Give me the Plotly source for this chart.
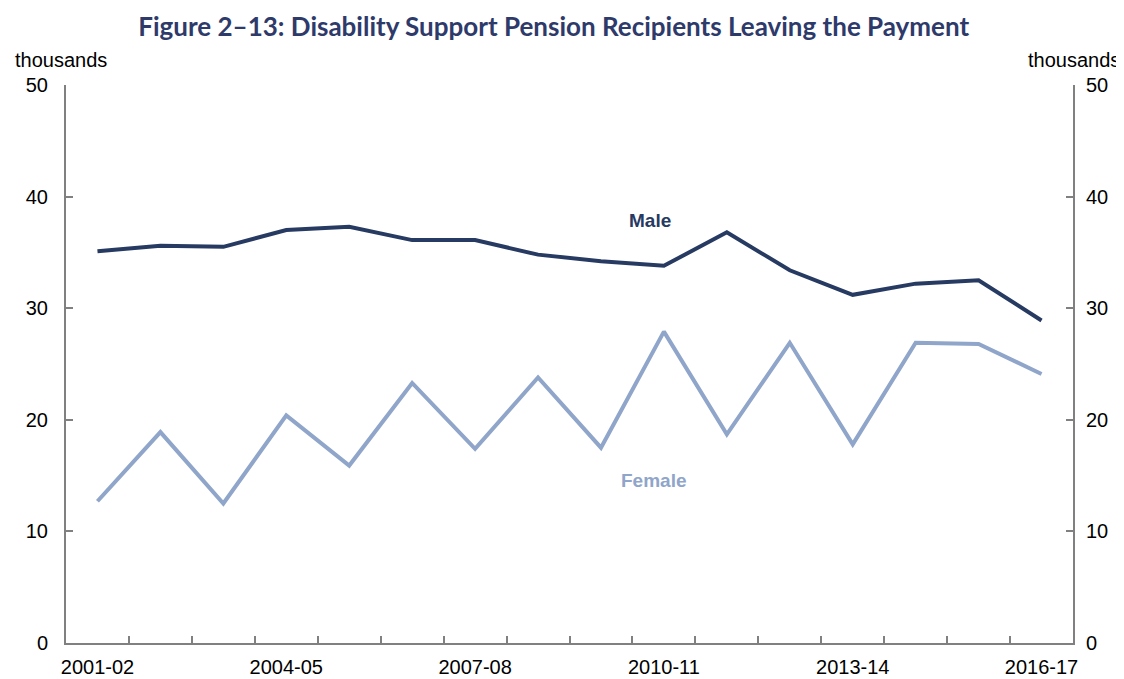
import plotly.graph_objects as go

years = ["2001-02", "2002-03", "2003-04", "2004-05", "2005-06", "2006-07", "2007-08", "2008-09",
         "2009-10", "2010-11", "2011-12", "2012-13", "2013-14", "2014-15", "2015-16", "2016-17"]
male = [35.1, 35.6, 35.5, 37.0, 37.3, 36.1, 36.1, 34.8, 34.2, 33.8, 36.8, 33.4, 31.2, 32.2, 32.5, 28.9]
female = [12.7, 18.9, 12.5, 20.4, 15.9, 23.3, 17.4, 23.8, 17.5, 27.9, 18.7, 26.9, 17.8, 26.9, 26.8, 24.1]
tick_labels = [y if i % 3 == 0 else "" for i, y in enumerate(years)]

MALE_C = "#263A62"
FEMALE_C = "#8FA5C9"
AXIS_C = "#808080"
TXT = "#000000"
FONT = "Liberation Sans, Arial, sans-serif"

fig = go.Figure()
fig.add_trace(go.Scatter(x=years, y=male, mode="lines", name="Male",
                         line=dict(color=MALE_C, width=4), showlegend=False))
fig.add_trace(go.Scatter(x=years, y=female, mode="lines", name="Female",
                         line=dict(color=FEMALE_C, width=4), showlegend=False))
fig.add_trace(go.Scatter(x=years, y=male, mode="lines", yaxis="y2",
                         line=dict(color="rgba(0,0,0,0)", width=0), showlegend=False, hoverinfo="skip"))

fig.update_layout(
    width=1116, height=671,
    margin=dict(l=58, r=51, t=77, b=36, autoexpand=False),
    paper_bgcolor="white", plot_bgcolor="white",
    font=dict(family=FONT, size=20, color=TXT),
    title=dict(text="<b>Figure 2\u201313: Disability Support Pension Recipients Leaving the Payment</b>",
               x=0.489, xanchor="center", y=0.972, yanchor="middle", automargin=False,
               font=dict(family="Lato, Carlito, sans-serif", size=26, color="#2E3A6A")),
    xaxis=dict(type="category", range=[-0.5, 15.5], tickmode="array", tickvals=years, ticktext=tick_labels,
               tickson="boundaries", ticks="inside", ticklen=7, tickwidth=1.5, tickcolor=AXIS_C,
               tickangle=0, automargin=False, ticklabelstandoff=5,
               showline=True, linecolor=AXIS_C, linewidth=2, showgrid=False, zeroline=False,
               tickfont=dict(size=20, color=TXT)),
    yaxis=dict(range=[0, 50], tickvals=[0, 10, 20, 30, 40, 50], ticks="inside", ticklen=7, tickwidth=1.5,
               tickcolor=AXIS_C, showline=True, linecolor=AXIS_C, linewidth=2, showgrid=False,
               zeroline=False, ticklabelstandoff=12, automargin=False, tickfont=dict(size=20, color=TXT)),
    yaxis2=dict(range=[0, 50], tickvals=[0, 10, 20, 30, 40, 50], overlaying="y", side="right",
                ticks="inside", ticklen=7, tickwidth=1.5, tickcolor=AXIS_C, showline=True,
                linecolor=AXIS_C, linewidth=2, showgrid=False, zeroline=False, automargin=False,
                ticklabelstandoff=7, tickfont=dict(size=20, color=TXT)),
    annotations=[
        dict(text="thousands", xref="paper", yref="paper", x=-0.053, y=1.045, xanchor="left",
             yanchor="middle", showarrow=False, font=dict(size=20, color=TXT)),
        dict(text="thousands", xref="paper", yref="paper", x=1.049, y=1.045, xanchor="right",
             yanchor="middle", showarrow=False, font=dict(size=20, color=TXT)),
        dict(text="<b>Male</b>", x="2010-11", y=37.9, xshift=-14, showarrow=False,
             font=dict(size=19, color=MALE_C)),
        dict(text="<b>Female</b>", x="2010-11", y=14.6, xshift=-10, showarrow=False,
             font=dict(size=19, color=FEMALE_C)),
    ],
)

fig.write_html("out.html")
